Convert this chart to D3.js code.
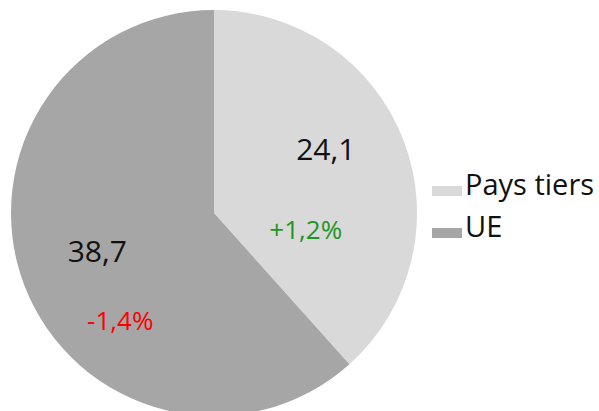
<!DOCTYPE html>
<html>
<head>
<meta charset="utf-8">
<script src="https://cdn.jsdelivr.net/npm/d3@7"></script>
<style>
  body { margin: 0; background: #fff; }
  text { font-family: "Open Sans", "Liberation Sans", sans-serif; }
</style>
</head>
<body>
<div id="chart"></div>
<script>
// data
var categories = ['Pays tiers', 'UE'];
var values = [24.1, 38.7];
var valueLabels = ['24,1', '38,7'];
var changeLabels = ['+1,2%', '-1,4%'];
var colors = ['#d9d9d9', '#a6a6a6'];
var changeColors = ['#1e961e', '#ff0000'];

// set up svg
var svgWidth = 599;
var svgHeight = 411;
var cx = 214, cy = 213, radius = 203;

var svg = d3.select('#chart')
    .append('svg')
    .attr('width', svgWidth)
    .attr('height', svgHeight);

var data = categories.map(function(c, i) {
    return { cat: c, value: values[i], label: valueLabels[i], change: changeLabels[i], i: i };
});

var pie = d3.pie().sort(null).value(d => d.value);
var arc = d3.arc().innerRadius(0).outerRadius(radius);

var pieGroup = svg.append('g')
    .attr('transform', `translate(${cx},${cy})`);

var arcs = pie(data);

pieGroup.selectAll('path')
    .data(arcs)
    .enter()
    .append('path')
        .attr('d', arc)
        .attr('fill', d => colors[d.data.i]);

// labels, positioned relative to an inner arc centroid
var labelArc = d3.arc().innerRadius(radius * 0.6).outerRadius(radius * 0.6);
var valueOffsets = [[-2, -9.5], [-3, 5.5]];
var changeOffsets = [[-22, 69.5], [20, 73.5]];

pieGroup.selectAll('.valueText')
    .data(arcs)
    .enter()
    .append('text')
        .attr('class', 'valueText')
        .attr('x', d => labelArc.centroid(d)[0] + valueOffsets[d.data.i][0])
        .attr('y', d => labelArc.centroid(d)[1] + valueOffsets[d.data.i][1])
        .attr('text-anchor', 'middle')
        .attr('font-size', 30)
        .attr('fill', '#111')
        .text(d => d.data.label);

pieGroup.selectAll('.changeText')
    .data(arcs)
    .enter()
    .append('text')
        .attr('class', 'changeText')
        .attr('x', d => labelArc.centroid(d)[0] + changeOffsets[d.data.i][0])
        .attr('y', d => labelArc.centroid(d)[1] + changeOffsets[d.data.i][1])
        .attr('text-anchor', 'middle')
        .attr('font-size', 26)
        .attr('fill', d => changeColors[d.data.i])
        .text(d => d.data.change);

// legend
var legend = svg.append('g')
    .attr('transform', 'translate(432,196)');

var legendY = d3.scalePoint().domain(categories).range([0, 42]);

var items = legend.selectAll('g')
    .data(categories)
    .enter()
    .append('g')
        .attr('transform', d => `translate(0,${legendY(d)})`);

items.append('rect')
    .attr('x', 0)
    .attr('y', -10)
    .attr('width', 30)
    .attr('height', 10)
    .attr('fill', (d, i) => colors[i]);

items.append('text')
    .attr('x', 33)
    .attr('y', -1)
    .attr('font-size', 29)
    .attr('fill', '#111')
    .text(d => d);
</script>
</body>
</html>
